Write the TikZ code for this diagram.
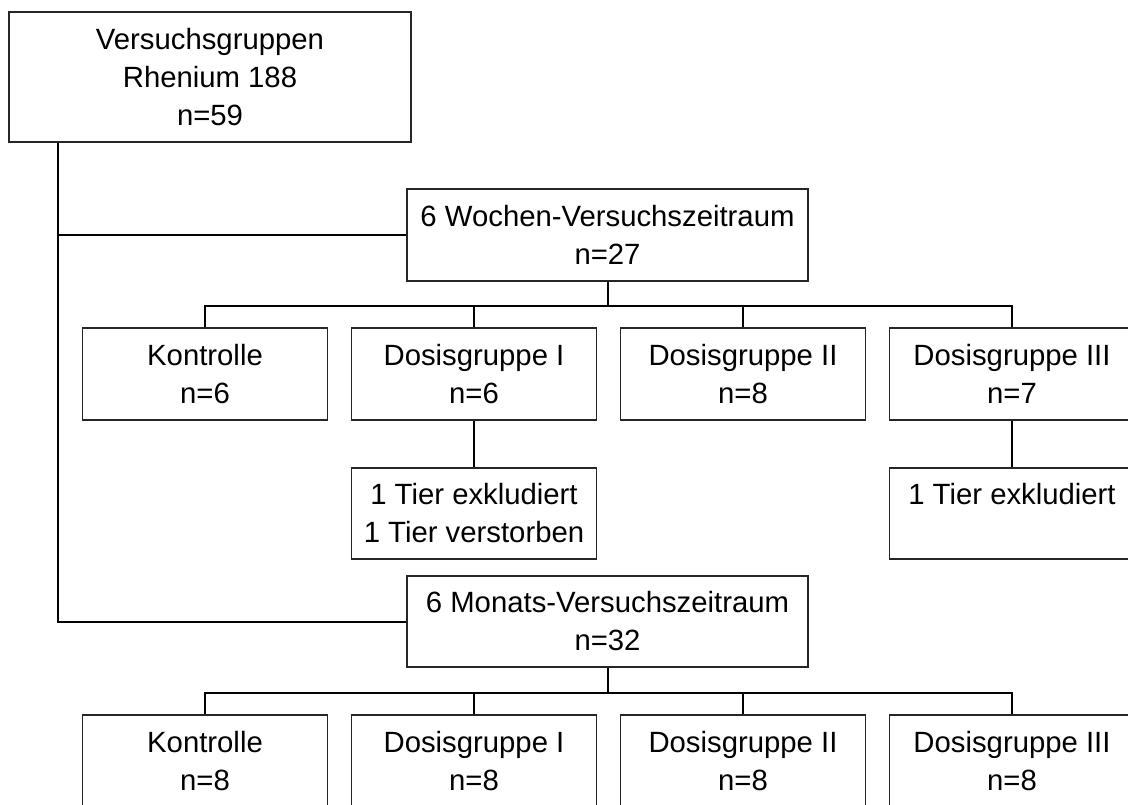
\documentclass[tikz,border=0pt]{standalone}
\usepackage{fontspec}
\setmainfont{Liberation Sans}
\begin{document}
\begin{tikzpicture}[x=1pt,y=-1pt,
  box/.style={draw=black!85, line width=1.2pt, fill=white, align=center, inner sep=0pt,
    font=\fontsize{29.3}{38}\selectfont},
  wide/.style={box, minimum width=401pt, minimum height=92pt},
  small/.style={box, minimum width=245pt, minimum height=92pt},
  conn/.style={draw=black, line width=2pt, line join=miter}]
\clip (0,0) rectangle (1128,804);
\fill[white] (0,0) rectangle (1128,804);
% top
\node[box, minimum width=402pt, minimum height=130pt] (top) at (210,77) {Versuchsgruppen\\Rhenium 188\\n=59};
\node[wide] (wochen) at (607.5,235) {6 Wochen-Versuchszeitraum\\n=27};
\node[small] (k1) at (205,374) {Kontrolle\\n=6};
\node[small] (d1a) at (474,374) {Dosisgruppe I\\n=6};
\node[small] (d2a) at (743,374) {Dosisgruppe II\\n=8};
\node[small] (d3a) at (1012,374) {Dosisgruppe III\\n=7};
\node[small, minimum height=91pt] (ex1) at (474,513.5) {1 Tier exkludiert\\1 Tier verstorben};
\node[small, minimum height=91pt] (ex3) at (1012,513.5) {1 Tier exkludiert\\\phantom{1 Tier verstorben}};
\node[wide, minimum height=91pt] (monats) at (607.5,621.5) {6 Monats-Versuchszeitraum\\n=32};
\node[small] (k2) at (205,761) {Kontrolle\\n=8};
\node[small] (d1b) at (474,761) {Dosisgruppe I\\n=8};
\node[small] (d2b) at (743,761) {Dosisgruppe II\\n=8};
\node[small] (d3b) at (1012,761) {Dosisgruppe III\\n=8};
% trunk
\draw[conn] (top.south west) ++(50,0) coordinate (tr) |- (monats.west);
\draw[conn] (tr |- wochen.west) -- (wochen.west);
% six weeks
\draw[conn] (wochen.south) -- ++(0,24) coordinate (bus1);
\draw[conn] (k1.north) -- (k1.north |- bus1) -| (d3a.north);
\draw[conn] (d1a.north) -- (d1a.north |- bus1);
\draw[conn] (d2a.north) -- (d2a.north |- bus1);
\draw[conn] (d1a.south) -- (ex1.north);
\draw[conn] (d3a.south) -- (ex3.north);
% six months
\draw[conn] (monats.south) -- ++(0,25) coordinate (bus2);
\draw[conn] (k2.north) -- (k2.north |- bus2) -| (d3b.north);
\draw[conn] (d1b.north) -- (d1b.north |- bus2);
\draw[conn] (d2b.north) -- (d2b.north |- bus2);
\end{tikzpicture}
\end{document}
